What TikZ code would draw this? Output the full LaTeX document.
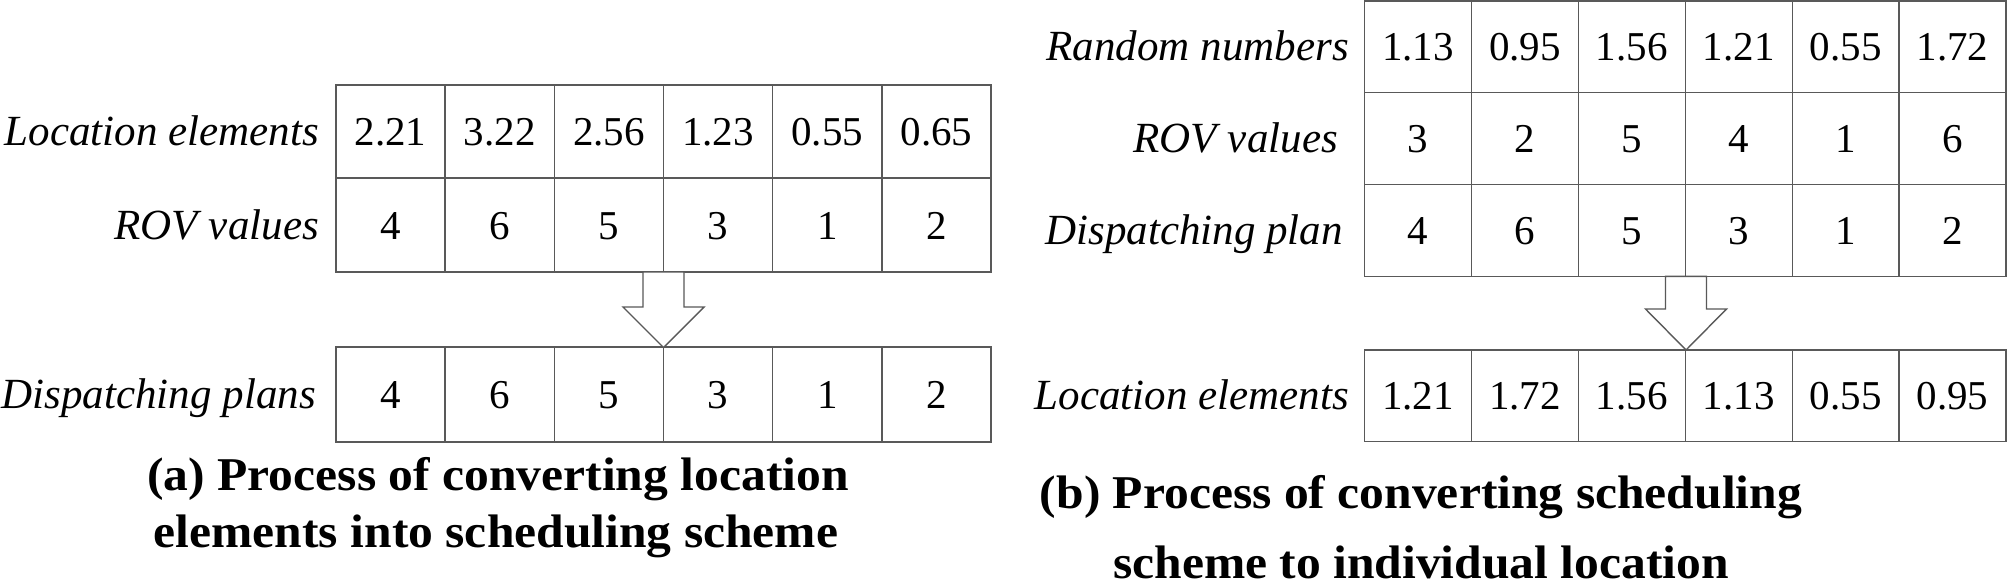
\documentclass[tikz,border=0pt]{standalone}
\usepackage{fontspec}
\setmainfont{Liberation Serif}
\newcommand{\capline}[1]{\scalebox{1.055}[1]{#1}}
\begin{document}
\begin{tikzpicture}[x=1pt,y=-1pt,
  tline/.style={line width=1.4pt, draw=black!65},
  num/.style={anchor=base, inner sep=0pt, font=\fontsize{41}{49}\selectfont},
  lab/.style={anchor=base east, inner sep=0pt, font=\fontsize{43}{50}\selectfont\itshape},
  captxt/.style={anchor=base, inner sep=0pt, font=\fontsize{47}{55}\selectfont\bfseries},
  bigarrow/.style={draw=black!65, line width=1.4pt, fill=white, line join=miter}]
\useasboundingbox (0,0) rectangle (2008,581);
\fill[white] (0,0) rectangle (2008,581);

% ---------- left panel ----------
\def\Lx{336}\def\Lw{109.17}
\draw[tline] (336,85) rectangle (991,272);
\draw[tline] (336,178) -- (991,178);
\foreach \i in {1,...,5} \draw[tline] ({\Lx+\i*\Lw},85) -- ({\Lx+\i*\Lw},272);
\draw[tline] (336,347) rectangle (991,442);
\foreach \i in {1,...,5} \draw[tline] ({\Lx+\i*\Lw},347) -- ({\Lx+\i*\Lw},442);

\foreach \v [count=\i] in {2.21,3.22,2.56,1.23,0.55,0.65}
  \node[num] (la\i) at ({\Lx+(\i-0.5)*\Lw},145.5) {\v};
\foreach \v [count=\i] in {4,6,5,3,1,2}
  \node[num] (lb\i) at ({\Lx+(\i-0.5)*\Lw},239) {\v};
\foreach \v [count=\i] in {4,6,5,3,1,2}
  \node[num] (lc\i) at ({\Lx+(\i-0.5)*\Lw},408.5) {\v};

\node[lab] (lla) at (319,145.5) {Location elements};
\node[lab] (llb) at (319,239) {ROV values};
\node[lab] (llc) at (316,408.5) {Dispatching plans};

\draw[bigarrow] (643,272) -- (643,307) -- (623,307) -- (663.5,347.5) -- (704,307) -- (684,307) -- (684,272) -- cycle;

\node[captxt] (capa1) at (498,490) {\capline{(a) Process of converting location}};
\node[captxt] (capa2) at (496,547) {\capline{elements into scheduling scheme}};

% ---------- right panel ----------
\def\Rx{1364.5}\def\Rw{106.92}
\draw[tline] (1364.5,1) rectangle (2006,276.3);
\draw[tline] (1364.5,92.5) -- (2006,92.5);
\draw[tline] (1364.5,184.3) -- (2006,184.3);
\foreach \i in {1,...,5} \draw[tline] ({\Rx+\i*\Rw},1) -- ({\Rx+\i*\Rw},276.3);
\draw[tline] (1364.5,350) rectangle (2006,441.5);
\foreach \i in {1,...,5} \draw[tline] ({\Rx+\i*\Rw},350) -- ({\Rx+\i*\Rw},441.5);

\foreach \v [count=\i] in {1.13,0.95,1.56,1.21,0.55,1.72}
  \node[num] (ra\i) at ({\Rx+(\i-0.5)*\Rw},60.5) {\v};
\foreach \v [count=\i] in {3,2,5,4,1,6}
  \node[num] (rb\i) at ({\Rx+(\i-0.5)*\Rw},152.5) {\v};
\foreach \v [count=\i] in {4,6,5,3,1,2}
  \node[num] (rc\i) at ({\Rx+(\i-0.5)*\Rw},244.5) {\v};
\foreach \v [count=\i] in {1.21,1.72,1.56,1.13,0.55,0.95}
  \node[num] (rd\i) at ({\Rx+(\i-0.5)*\Rw},409.5) {\v};

\node[lab] (rla) at (1349,60.5) {Random numbers};
\node[lab] (rlb) at (1338,152.5) {ROV values};
\node[lab] (rlc) at (1343,244.5) {Dispatching plan};
\node[lab] (rld) at (1349,409.5) {Location elements};

\draw[bigarrow] (1665.5,276.3) -- (1665.5,309) -- (1645.5,309) -- (1686,350) -- (1726.5,309) -- (1706.5,309) -- (1706.5,276.3) -- cycle;

\node[captxt] (capb1) at (1421,508) {\capline{(b) Process of converting scheduling}};
\node[captxt] (capb2) at (1421,578) {\capline{scheme to individual location}};
\end{tikzpicture}
\end{document}
